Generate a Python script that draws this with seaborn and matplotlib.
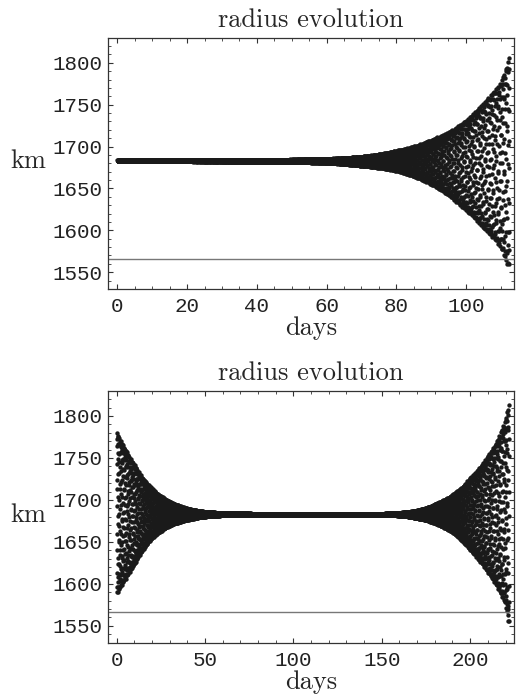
import numpy as np
import pandas as pd
import matplotlib
matplotlib.use("Agg")
import matplotlib.pyplot as plt
from matplotlib.ticker import MultipleLocator
import seaborn as sns

# envelope of the radius cloud (km)
days_a = [0, 20, 40, 50, 60, 70, 80, 90, 100, 105, 110, 112.5]
upper_a = [1683.6, 1683.8, 1684.2, 1684.6, 1685.5, 1688, 1695, 1708, 1731, 1752, 1776, 1808]
lower_a = [1682.4, 1682.2, 1681.8, 1681.4, 1680.5, 1677, 1671, 1655, 1624, 1603, 1580, 1552]

days_b = [0, 5, 10, 20, 30, 40, 50, 60, 80, 150, 160, 170, 180, 190, 200, 210, 215, 220, 222]
upper_b = [1780, 1760, 1742, 1714, 1698, 1690, 1686, 1684.6, 1683.7, 1683.7, 1684.8, 1687.5, 1695,
           1706, 1726, 1752, 1769, 1795, 1816]
lower_b = [1588, 1606, 1623, 1654, 1669, 1676, 1680, 1681.5, 1682.3, 1682.3, 1681.2, 1678, 1672,
           1661, 1640, 1614, 1598, 1575, 1551]

limit_km = 1566
y_range = (1530, 1830)


def cloud(days, upper, lower, step, turn):
    upper = np.array(upper, dtype=float)
    lower = np.array(lower, dtype=float)
    t = np.arange(days[0], days[-1] + step / 2, step)
    mid = np.interp(t, days, (upper + lower) / 2)
    amp = np.exp(np.interp(t, days, np.log((upper - lower) / 2)))
    r = mid + amp * np.cos(2 * np.pi * turn * np.arange(len(t)))
    return pd.DataFrame({"days": t, "km": r})


df_a = cloud(days_a, upper_a, lower_a, 0.03, 0.3819)
df_b = cloud(days_b, upper_b, lower_b, 0.04, 0.3819)

sns.set_style("ticks")
plt.rcParams.update({
    "xtick.direction": "in", "ytick.direction": "in",
    "xtick.top": True, "ytick.right": True,
    "xtick.major.size": 3.5, "ytick.major.size": 3.5,
    "xtick.minor.size": 2, "ytick.minor.size": 2,
    "axes.edgecolor": "#333333", "axes.linewidth": 0.9,
    "xtick.color": "#333333", "ytick.color": "#333333",
})

fig = plt.figure(figsize=(5.16, 6.95), dpi=100)
ax1 = fig.add_axes([0.2093, 0.5842, 0.7868, 0.3616])
ax2 = fig.add_axes([0.2093, 0.0753, 0.7868, 0.3625])

serif = dict(family="cmr10", size=19)
mono = dict(family="Liberation Mono", size=15)

for ax, df, xlim, major, minor in [(ax1, df_a, (-2.7, 113.8), 20, 5),
                                   (ax2, df_b, (-4.9, 224.8), 50, 10)]:
    sns.scatterplot(data=df, x="days", y="km", ax=ax, color="#1a1a1a",
                    s=10, linewidth=0, legend=False)
    ax.axhline(limit_km, color="#777777", lw=1)
    ax.set_xlim(*xlim)
    ax.set_ylim(*y_range)
    ax.xaxis.set_major_locator(MultipleLocator(major))
    ax.xaxis.set_minor_locator(MultipleLocator(minor))
    ax.yaxis.set_major_locator(MultipleLocator(50))
    ax.yaxis.set_minor_locator(MultipleLocator(10))
    ax.tick_params(which="both", top=True, right=True)
    ax.tick_params(axis="x", pad=6)
    ax.tick_params(axis="y", pad=4)
    for lab in ax.get_xticklabels() + ax.get_yticklabels():
        lab.set_fontfamily(mono["family"])
        lab.set_fontsize(mono["size"])
        lab.set_color("#222222")
    ax.set_title("radius evolution", fontdict=serif, pad=8)
    ax.set_xlabel("days", fontdict=serif, labelpad=0)
    ax.set_ylabel("km", fontdict=serif, rotation=0, ha="center", va="center")
    ax.yaxis.set_label_coords(-0.196, 0.508)

fig.savefig("out.png", dpi=100)
